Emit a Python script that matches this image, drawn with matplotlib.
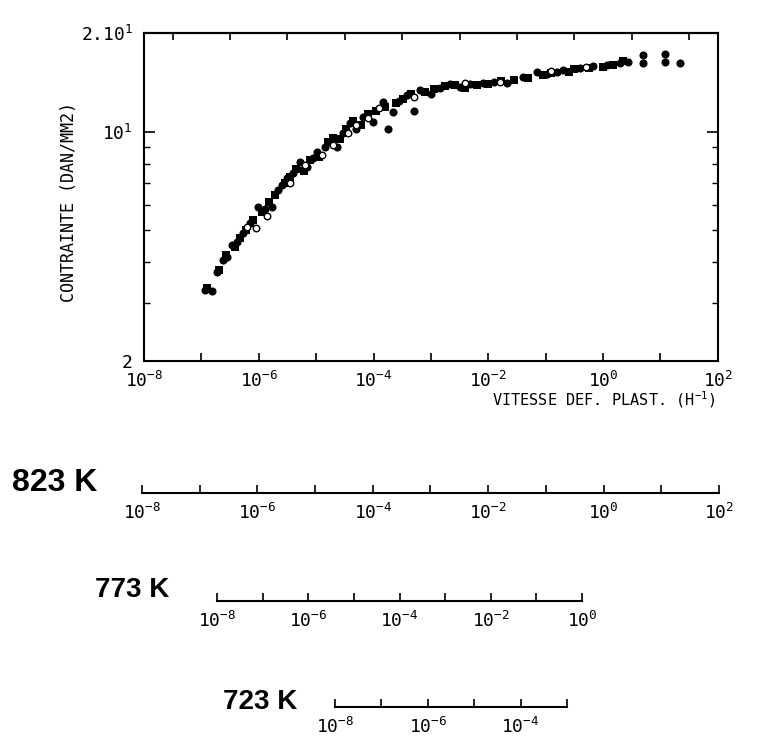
import numpy as np
import matplotlib
matplotlib.use("Agg")
import matplotlib.pyplot as plt
from matplotlib.ticker import FixedLocator, NullFormatter

plt.rcParams['mathtext.fontset'] = 'custom'
plt.rcParams['mathtext.rm'] = 'DejaVu Sans Mono'
plt.rcParams['mathtext.it'] = 'DejaVu Sans Mono'

mono = 'DejaVu Sans Mono'

# log10 of strain rate (h^-1) and stress (daN/mm2), solid symbols
rate_solid = [-6.94, -6.82, -6.73, -6.62, -6.55, -6.47, -6.38, -6.28, -6.15, -6.01,
              -5.90, -5.77, -5.67, -5.60, -5.51, -5.40, -5.28, -5.16, -5.05, -4.99,
              -4.85, -4.76, -4.64, -4.53, -4.41, -4.30, -4.18, -4.01, -3.84, -3.75,
              -3.66, -3.55, -3.42, -3.30, -3.19, -3.00, -2.84, -2.67, -2.50, -2.32,
              -2.09, -1.90, -1.68, -1.40, -1.15, -0.98, -0.80, -0.70, -0.40, -0.18,
              0.07, 0.29, 0.43, 0.69, 0.69, 1.08, 1.08, 1.34]
stress_solid = [3.29, 3.28, 3.73, 4.06, 4.15, 4.51, 4.61, 4.91, 5.26, 5.89,
                5.80, 5.89, 6.63, 6.90, 7.21, 7.50, 8.07, 7.79, 8.30, 8.65,
                9.00, 9.28, 8.96, 9.89, 10.6, 10.2, 11.1, 10.7, 12.3, 10.2,
                11.5, 12.4, 12.9, 11.6, 13.4, 13.0, 13.6, 14.0, 13.7, 14.0,
                14.1, 14.2, 14.1, 14.7, 15.2, 15.0, 15.2, 15.4, 15.6, 15.9,
                16.0, 16.2, 16.3, 17.1, 16.2, 17.3, 16.3, 16.2]

# second series of solid symbols
rate_solid2 = [-6.90, -6.70, -6.58, -6.42, -6.33, -6.22, -6.10, -5.95, -5.82, -5.72,
               -5.55, -5.45, -5.35, -5.22, -5.10, -4.95, -4.80, -4.70, -4.58, -4.48,
               -4.35, -4.22, -4.10, -3.95, -3.80, -3.60, -3.48, -3.35, -3.10, -2.95,
               -2.75, -2.58, -2.40, -2.20, -2.00, -1.78, -1.55, -1.30, -1.05, -0.90,
               -0.60, -0.50, -0.25, 0.00, 0.18, 0.35]
stress_solid2 = [3.35, 3.80, 4.20, 4.45, 4.75, 5.00, 5.40, 5.70, 6.10, 6.40,
                 7.00, 7.30, 7.70, 7.60, 8.20, 8.40, 9.30, 9.60, 9.50, 10.2,
                 10.8, 10.5, 11.3, 11.6, 11.9, 12.2, 12.6, 13.0, 13.2, 13.5,
                 13.8, 13.9, 13.6, 13.9, 14.0, 14.3, 14.4, 14.6, 14.9, 15.1,
                 15.2, 15.5, 15.7, 15.8, 16.0, 16.4]

# open symbols
rate_open = [-6.20, -6.05, -5.85, -5.45, -5.20, -4.90, -4.70, -4.45, -4.30, -4.10,
             -3.90, -3.30, -2.40, -1.80, -0.90, -0.30]
stress_open = [5.12, 5.10, 5.55, 7.00, 7.90, 8.50, 9.10, 9.90, 10.5, 11.0,
               11.8, 12.8, 14.1, 14.2, 15.3, 15.8]

# strain-rate scales for each temperature: (label, first decade, last decade)
scales = [("823 K", -8, 2), ("773 K", -8, 0), ("723 K", -8, -3)]


def decade_label(k):
    return r'$10^{%d}$' % k


fig = plt.figure(figsize=(7.58, 7.47), dpi=100)
ax = fig.add_axes([0.190, 0.5167, 0.757, 0.4391])

ax.scatter(10.0 ** np.array(rate_solid), stress_solid, s=34, c='black',
           marker='o', linewidths=0, zorder=3)
ax.scatter(10.0 ** np.array(rate_solid2), stress_solid2, s=30, c='black',
           marker='s', linewidths=0, zorder=3)
ax.scatter(10.0 ** np.array(rate_open), stress_open, s=22, facecolors='white',
           edgecolors='black', linewidths=1.0, zorder=4)

ax.set_xscale('log')
ax.set_yscale('log')
ax.set_xlim(1e-8, 1e2)
ax.set_ylim(2, 20)

decades = np.arange(-8, 3)
ax.xaxis.set_major_locator(FixedLocator(10.0 ** decades))
ax.xaxis.set_minor_locator(FixedLocator([]))
ax.set_xticklabels([decade_label(k) if k % 2 == 0 else '' for k in decades],
                   fontsize=13, family=mono)

ax.yaxis.set_major_locator(FixedLocator([2, 10, 20]))
ax.yaxis.set_minor_locator(FixedLocator([3, 4, 5, 6, 7, 8, 9]))
ax.yaxis.set_minor_formatter(NullFormatter())
ax.set_yticklabels(['2', r'$10^{1}$', r'$2.10^{1}$'], fontsize=13, family=mono)

ax.tick_params(axis='x', which='both', direction='in', length=6, width=1.2,
               pad=7, top=False)
ax.tick_params(axis='y', which='major', direction='in', length=8, width=1.2,
               pad=8, right=True)
ax.tick_params(axis='y', which='minor', direction='in', length=4, width=1.0,
               right=True)
# the lowest stress label sits a little further out and higher
lab2 = ax.get_yticklabels()[0]
lab2.set_y(2.06)

# top ticks fall between decades
top = ax.secondary_xaxis('top')
top.xaxis.set_major_locator(FixedLocator(10.0 ** (decades[:-1] + 0.5)))
top.xaxis.set_minor_locator(FixedLocator([]))
top.xaxis.set_major_formatter(NullFormatter())
top.tick_params(direction='in', length=5, width=1.2)
top.spines['top'].set_linewidth(1.5)

for sp in ax.spines.values():
    sp.set_linewidth(1.5)

ax.set_ylabel('CONTRAINTE (DAN/MM2)', fontsize=12, family=mono)
ax.yaxis.set_label_coords(-0.115, 0.485)
ax.text(0.995, -0.118, r'VITESSE DEF. PLAST. (H$^{-1}$)', transform=ax.transAxes,
        ha='right', va='center', fontsize=11, family=mono)

# strain-rate scales shifted for the lower temperatures
bar_rects = [[0.1873, 0.3400, 0.7612], [0.2863, 0.1954, 0.4815],
             [0.4420, 0.0535, 0.3061]]
name_pos = [(0.016, 0.3534), (0.125, 0.2102), (0.294, 0.0602)]
name_size = [23, 20, 20]

for (name, lo, hi), (l, b, w), (tx, ty), fs in zip(scales, bar_rects,
                                                     name_pos, name_size):
    sax = fig.add_axes([l, b, w, 0.0001])
    sax.set_xscale('log')
    sax.set_xlim(10.0 ** lo, 10.0 ** hi)
    ks = np.arange(lo, hi + 1)
    sax.xaxis.set_major_locator(FixedLocator(10.0 ** ks))
    sax.xaxis.set_minor_locator(FixedLocator([]))
    sax.set_xticklabels([decade_label(k) if k % 2 == 0 else '' for k in ks],
                        fontsize=13, family=mono)
    sax.set_yticks([])
    for side in ['top', 'left', 'right']:
        sax.spines[side].set_visible(False)
    sax.spines['bottom'].set_linewidth(1.5)
    sax.tick_params(axis='x', direction='in', length=6, width=1.2, pad=7)
    sax.patch.set_visible(False)
    fig.text(tx, ty, name, fontsize=fs, fontweight='bold',
             family='Liberation Sans', ha='left', va='center')

fig.savefig('out.png', dpi=100)
